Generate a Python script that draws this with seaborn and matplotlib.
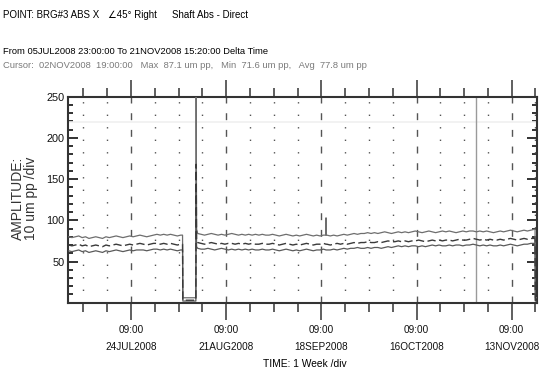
import numpy as np
import pandas as pd
import matplotlib
matplotlib.use("Agg")
import matplotlib.pyplot as plt
import matplotlib.dates as mdates
from matplotlib.ticker import FixedLocator, MultipleLocator
import seaborn as sns

# ---------------- data ----------------
daily_start = "2008-07-06"
max_daily = [80, 79, 80, 81, 79, 80, 78, 79, 80, 79, 78, 80, 79, 80, 81, 80, 79, 80, 81, 80,
             81, 82, 81, 80, 81, 82, 83, 82, 83, 82, 83, 82, 81, 82,
             6, 6, 6, 6,
             84, 83, 82, 83, 84, 83, 82, 83, 82, 83, 84, 83, 82, 83, 82, 83, 82, 83, 82,
             83, 82, 82, 83, 82, 81, 82, 83, 82, 81, 82, 81, 82, 83, 82, 81, 82, 81, 82, 82,
             81, 82, 81, 82, 83, 82, 83, 84, 83, 84,
             84, 85, 84, 85, 84, 85, 86, 85, 84, 85, 86, 85, 86, 85, 86, 87, 86, 85, 86, 87,
             86, 85, 86, 87, 86, 87, 86, 85, 86, 87, 86,
             87, 87, 86, 87, 86, 87, 86, 85, 86, 87, 86, 87, 88, 87, 86, 87, 88, 87, 88, 89]
avg_daily = [70, 69, 70, 71, 69, 70, 68, 69, 70, 69, 68, 70, 69, 70, 71, 70, 69, 70, 71, 70,
             71, 72, 71, 70, 71, 72, 72, 71, 72, 71, 72, 71, 70, 71,
             3, 3, 3, 3,
             73, 72, 71, 72, 73, 72, 71, 72, 71, 72, 72, 71, 72, 71, 72, 71, 72, 71, 71,
             72, 71, 71, 72, 71, 70, 71, 72, 71, 70, 71, 70, 71, 72, 71, 70, 71, 71, 72, 71,
             70, 71, 72, 71, 72, 71, 72, 73, 72, 73,
             73, 74, 73, 73, 74, 73, 74, 75, 74, 74, 75, 74, 75, 74, 75, 75, 76, 75, 74, 75,
             76, 75, 76, 75, 76, 76, 75, 76, 77, 76, 76,
             77, 78, 77, 76, 77, 76, 77, 76, 76, 77, 76, 77, 78, 77, 76, 77, 78, 77, 78, 78]
min_daily = [63, 62, 63, 64, 62, 63, 61, 62, 63, 62, 61, 63, 62, 63, 64, 63, 62, 63, 64, 63,
             64, 64, 64, 63, 64, 65, 65, 64, 65, 64, 65, 64, 63, 64,
             2, 2, 2, 2,
             66, 65, 65, 66, 65, 64, 65, 66, 65, 64, 65, 64, 65, 64, 65, 64, 65, 64, 64,
             65, 64, 64, 65, 64, 63, 64, 65, 64, 63, 64, 63, 64, 65, 64, 63, 64, 64, 65, 64,
             64, 65, 64, 65, 66, 65, 66, 66, 67, 66,
             66, 67, 66, 67, 67, 66, 67, 68, 67, 68, 69, 68, 69, 68, 69, 69, 68, 69, 68, 69,
             70, 69, 70, 69, 69, 70, 69, 70, 70, 69, 70,
             70, 71, 70, 69, 70, 69, 70, 69, 69, 70, 69, 70, 71, 70, 69, 70, 71, 71, 72, 72]

event_times = ["2008-07-05 23:00", "2008-08-08 13:00", "2008-08-08 15:00",
               "2008-08-12 11:00", "2008-08-12 13:00", "2008-08-12 16:00",
               "2008-09-19 16:00", "2008-09-19 18:00", "2008-09-19 20:00",
               "2008-11-20 06:00", "2008-11-20 08:00", "2008-11-21 15:20"]
event_max = [80, 82, 6, 6, 262, 89, 82, 103, 82, 89, 6, 6]
event_avg = [70, 71, 3, 3, 168, 75, 71, 71, 71, 78, 3, 3]
event_min = [63, 64, 2, 2, 140, 68, 64, 64, 64, 72, 2, 2]

x_tick_labels = ["09:00\n24JUL2008", "09:00\n21AUG2008", "09:00\n18SEP2008",
                 "09:00\n16OCT2008", "09:00\n13NOV2008"]
y_tick_labels = ["50", "100", "150", "200", "250"]
alarm_level = 219
cursor_time = "2008-11-02 19:00"

# ---------------- build table ----------------
daily = pd.DataFrame({
    "time": pd.date_range(daily_start, periods=len(max_daily), freq="D"),
    "max": max_daily, "avg": avg_daily, "min": min_daily})
events = pd.DataFrame({"time": pd.to_datetime(event_times),
                       "max": event_max, "avg": event_avg, "min": event_min})
df = pd.concat([daily, events]).sort_values("time").reset_index(drop=True)

# ---------------- figure ----------------
sns.set_style("white")
FONT = ["Liberation Sans", "DejaVu Sans"]
plt.rcParams["font.family"] = FONT

W, H = 542, 372
fig = plt.figure(figsize=(W / 100, H / 100), dpi=100)
L, R, T, B = 68.4, 537.0, 96.7, 302.7
ax = fig.add_axes([L / W, (H - B) / H, (R - L) / W, (B - T) / H])

x0 = pd.Timestamp("2008-07-05 23:00")
x1 = pd.Timestamp("2008-11-20 19:40")
ax.set_xlim(x0, x1)
ax.set_ylim(0, 250)

# grid
majors = pd.date_range("2008-07-24 09:00", periods=5, freq="28D")
minors = pd.date_range("2008-07-10 09:00", "2008-11-20 09:00", freq="7D")
for t in minors:
    if t in majors:
        continue
    ax.axvline(t, color="#555555", lw=1.0, ls=(0, (1, 8)), zorder=1)
for t in majors:
    ax.axvline(t, color="#555555", lw=1.0, ls=(0, (5, 7)), zorder=1)
ax.axhline(alarm_level, color="#f0f0f0", lw=1.2, zorder=1)
ax.axvline(pd.Timestamp(cursor_time), color="#9a9a9a", lw=1.0, zorder=2)

# traces
sns.lineplot(data=df, x="time", y="max", ax=ax, color="#6e6e6e", lw=0.9,
             estimator=None, sort=False, zorder=3)
sns.lineplot(data=df, x="time", y="min", ax=ax, color="#5a5a5a", lw=0.9,
             estimator=None, sort=False, zorder=3)
sns.lineplot(data=df, x="time", y="avg", ax=ax, color="#3a3a3a", lw=1.0,
             estimator=None, sort=False, zorder=4, dashes=False)
ax.lines[-1].set_linestyle((0, (6, 2.5)))

# ticks
ax.xaxis.set_major_locator(FixedLocator(mdates.date2num(majors)))
ax.xaxis.set_minor_locator(FixedLocator(mdates.date2num(minors)))
ax.set_xticklabels(x_tick_labels, fontsize=7.2, linespacing=1.85, color="#111111")
ax.tick_params(axis="x", which="both", direction="out", top=True, bottom=True,
               color="#444444", width=1.2)
ax.tick_params(axis="x", which="major", length=12, pad=4)
ax.tick_params(axis="x", which="minor", length=6.5)

ax.yaxis.set_major_locator(FixedLocator([50, 100, 150, 200, 250]))
ax.set_yticklabels(y_tick_labels, fontsize=7.8, color="#111111")
ax.yaxis.set_minor_locator(MultipleLocator(10))
ax.tick_params(axis="y", which="both", direction="in", left=True, right=True,
               color="#222222", width=1.3)
ax.tick_params(axis="y", which="major", length=7, pad=3)
ax.tick_params(axis="y", which="minor", length=3.6)

ax.set_xlabel("")
ax.set_ylabel("")
for s in ax.spines.values():
    s.set_color("#333333")
    s.set_linewidth(1.5)
    s.set_visible(True)

# texts
def fx(px):
    return px / W

def fy(py):
    return 1 - py / H

fig.text(fx(3), fy(15), "POINT: BRG#3 ABS X", fontsize=7.0, va="center", ha="left", color="black")
fig.text(fx(108), fy(15), "∠45° Right", fontsize=7.0, va="center", ha="left", color="black")
fig.text(fx(172), fy(15), "Shaft Abs - Direct", fontsize=7.0, va="center", ha="left", color="black")
fig.text(fx(3), fy(51), "From 05JUL2008 23:00:00 To 21NOV2008 15:20:00 Delta Time",
         fontsize=6.75, va="center", ha="left", color="black")
fig.text(fx(3), fy(65), "Cursor:  02NOV2008  19:00:00   Max  87.1 um pp,   Min  71.6 um pp,   Avg  77.8 um pp",
         fontsize=6.75, va="center", ha="left", color="#7a7a7a")
fig.text(fx(18), fy(198), "AMPLITUDE:", fontsize=10, rotation=90, va="center", ha="center",
         color="#333333")
fig.text(fx(31), fy(198), "10 um pp /div", fontsize=10, rotation=90, va="center", ha="center",
         color="#333333")
fig.text(fx(305), fy(364), "TIME: 1 Week /div", fontsize=7.4, va="center", ha="center", color="black")

fig.savefig("out.png", dpi=100)
